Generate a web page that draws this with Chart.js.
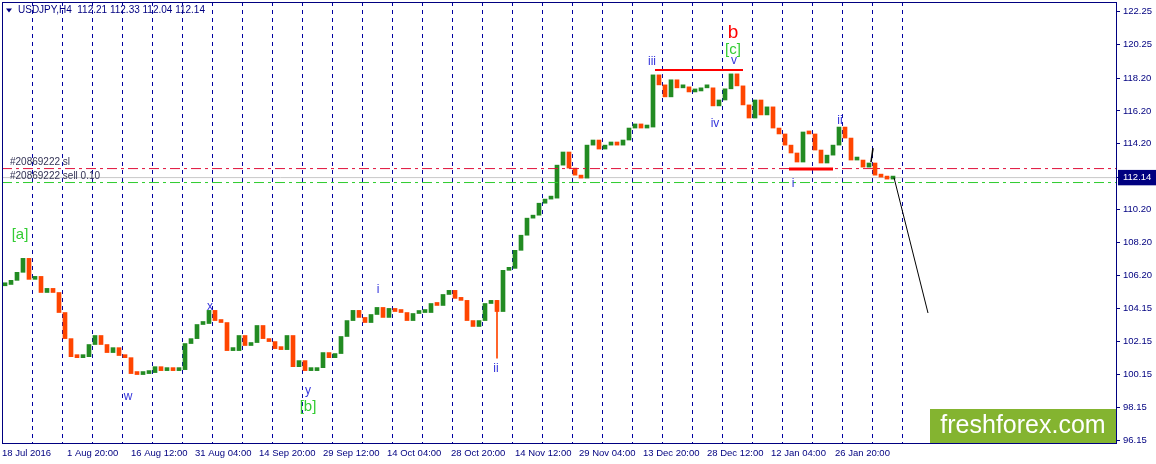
<!DOCTYPE html>
<html>
<head>
<meta charset="utf-8">
<title>USDJPY,H4</title>
<script src="https://cdn.jsdelivr.net/npm/chart.js@4.4.1/dist/chart.umd.min.js"></script>
<style>
  html, body { margin: 0; padding: 0; background: #fff; }
  #wrap { width: 1156px; height: 464px; }
</style>
</head>
<body>
<div id="wrap"><canvas id="chart" width="1156" height="464"></canvas></div>
<script>
// The x axis counts H4 bars (6 per trading day, 30 per week).
const dayCloses = [
  105.63, 105.88, 106.37, 107.22, 105.94, 106.12, 105.14, 105.39, 105.14, 103.92,
  102.33, 101.23, 101.17, 101.23, 101.97, 102.52, 101.97, 101.48, 101.78, 101.30,
  101.17, 100.20, 100.14, 100.20, 100.26, 100.62, 100.38, 100.44, 100.38, 100.44,
  102.03, 102.33, 103.19, 103.25, 104.05, 103.43, 103.31, 101.60, 101.60, 102.52,
  101.91, 102.09, 103.13, 102.33, 102.15, 101.72, 101.66, 102.52, 100.62, 100.99,
  100.38, 100.38, 100.56, 101.48, 101.17, 101.42, 102.46, 103.43, 104.05, 103.62,
  103.31, 103.80, 104.23, 103.62, 104.17, 103.98, 103.92, 103.43, 103.86, 103.92,
  103.92, 104.47, 104.35, 105.02, 105.27, 104.78, 104.66, 103.43, 103.07, 103.43,
  104.47, 104.66, 103.98, 106.49, 106.61, 107.71, 108.63, 109.67, 109.85, 110.58,
  110.83, 110.89, 112.90, 113.70, 112.72, 112.29, 112.11, 114.12, 114.43, 113.88,
  114.12, 114.31, 114.12, 114.43, 115.16, 115.41, 115.16, 115.22, 118.40, 117.79,
  117.06, 118.10, 117.61, 117.67, 117.36, 117.42, 117.61, 117.61, 116.51, 116.87,
  117.55, 118.46, 117.73, 116.57, 115.77, 116.87, 115.96, 116.45, 115.16, 114.80,
  114.12, 113.64, 113.09, 114.92, 114.80, 113.82, 113.03, 113.51, 114.12, 115.22,
  114.55, 113.21, 113.21, 112.78, 113.03, 112.29, 112.17, 112.05, 112.14
];
const firstOpen = 105.55;

// the long lower shadow under wave ii
const spikeDays = [82];
const spikeLows = [101.14];
const spikeHighs = [104.66];

const priceTicks = [122.25, 120.25, 118.20, 116.20, 114.20, 112.14, 110.20, 108.20, 106.20, 104.15, 102.15, 100.15, 98.15, 96.15];
const dateLabels = ['18 Jul 2016', '1 Aug 20:00', '16 Aug 12:00', '31 Aug 04:00', '14 Sep 20:00', '29 Sep 12:00',
  '14 Oct 04:00', '28 Oct 20:00', '14 Nov 12:00', '29 Nov 04:00', '13 Dec 20:00', '28 Dec 12:00',
  '12 Jan 04:00', '26 Jan 20:00'];
const dateTickBars = [0, 65, 129, 193, 257, 321, 385, 449, 513, 577, 641, 705, 769, 833];

const lastPrice = 112.14;
const slPrice = 112.69;
const sellPrice = 111.84;
const orderId = '#20869222';

// drawn objects: [fromBar, fromPrice, toBar, toPrice]
const topLevel = [653, 118.70, 741, 118.70];
const baseLevel = [787, 112.66, 831, 112.66];
const forecast = [892, 112.14, 926, 103.89];
const shortTrend = [869, 113.09, 871, 113.94];

// wave labels: text, bar, price, kind
const waveMarks = [
  ['[a]', 18, 108.63, 'green'],
  ['w', 126, 98.79, 'blue'],
  ['x', 208, 104.29, 'blue'],
  ['y', 306, 99.16, 'blue'],
  ['[b]', 306, 98.18, 'green'],
  ['i', 376, 105.33, 'blue'],
  ['ii', 494, 100.50, 'blue'],
  ['iii', 650, 119.20, 'blue'],
  ['iv', 713, 115.41, 'blue'],
  ['v', 732, 119.26, 'blue'],
  ['b', 731, 120.97, 'red'],
  ['[c]', 731, 119.93, 'green'],
  ['i', 791, 111.74, 'blue'],
  ['ii', 838, 115.59, 'blue']
];

const NAVY = '#000080';
const UP = '#228b22';
const DOWN = '#ff4500';
const FONT = 'Liberation Sans';
const markStyle = {
  blue: { color: '#3535dc', size: 12 },
  green: { color: '#33cc33', size: 15 },
  red: { color: '#ff0000', size: 19 }
};

const candles = dayCloses.map((c, i) => {
  const o = i ? dayCloses[i - 1] : firstOpen;
  return { x: i * 6 + 3, y: [o, c] };
});
const candleColors = candles.map(p => (p.y[1] >= p.y[0] ? UP : DOWN));
const spikes = spikeDays.map((d, i) => ({ x: d * 6 + 3, y: [spikeLows[i], spikeHighs[i]] }));

const seg = s => [{ x: s[0], y: s[1] }, { x: s[2], y: s[3] }];
const level = p => [{ x: 0, y: p }, { x: 1114, y: p }];
const lineDs = (data, color, width, dash, order) => ({
  type: 'line', data, borderColor: color, borderWidth: width, borderDash: dash || [],
  pointRadius: 0, fill: false, order: order
});

const chartDecor = {
  id: 'chartDecor',
  beforeDatasetsDraw(chart) {
    const { ctx, chartArea: a, scales: { x } } = chart;
    ctx.save();
    ctx.strokeStyle = '#0000a0';
    ctx.lineWidth = 1;
    ctx.setLineDash([4, 4]);
    for (let b = 30; b <= 900; b += 30) {
      const px = Math.round(x.getPixelForValue(b)) + 0.5;
      ctx.beginPath();
      ctx.moveTo(px, a.top);
      ctx.lineTo(px, a.bottom);
      ctx.stroke();
    }
    ctx.restore();
  },
  afterDraw(chart) {
    const { ctx, chartArea: a, scales: { x, y } } = chart;
    ctx.save();
    // frame
    ctx.strokeStyle = NAVY;
    ctx.lineWidth = 1;
    ctx.strokeRect(a.left + 0.5, a.top + 0.5, a.right - a.left, a.bottom - a.top);

    // symbol header
    ctx.fillStyle = NAVY;
    ctx.beginPath();
    ctx.moveTo(6, 8.5);
    ctx.lineTo(12, 8.5);
    ctx.lineTo(9, 12.5);
    ctx.closePath();
    ctx.fill();
    ctx.font = '10px "' + FONT + '"';
    ctx.textBaseline = 'middle';
    ctx.textAlign = 'left';
    ctx.fillText('USDJPY,H4  112.21 112.33 112.04 112.14', 18, 10.5);

    // order labels
    ctx.fillStyle = '#333355';
    ctx.fillText(orderId + ' sl', 10, y.getPixelForValue(slPrice) - 6);
    ctx.fillText(orderId + ' sell 0.10', 10, y.getPixelForValue(sellPrice) - 6.5);

    // wave labels
    ctx.textAlign = 'center';
    waveMarks.forEach(([t, bar, price, kind]) => {
      const st = markStyle[kind];
      ctx.fillStyle = st.color;
      ctx.font = st.size + 'px "' + FONT + '"';
      ctx.fillText(t, x.getPixelForValue(bar), y.getPixelForValue(price));
    });

    // broker logo
    ctx.fillStyle = '#84b430';
    ctx.fillRect(930, 409, 186, 34);
    ctx.fillStyle = '#ffffff';
    ctx.font = '25px "' + FONT + '"';
    ctx.fillText('freshforex.com', 1023, 426.5);
    ctx.restore();
  }
};

new Chart(document.getElementById('chart'), {
  type: 'bar',
  data: {
    datasets: [
      lineDs(level(lastPrice), '#c8c8c8', 1, [], 10),
      {
        type: 'bar', data: candles, backgroundColor: candleColors, borderWidth: 0,
        barThickness: 4, minBarLength: 3, grouped: false, order: 5
      },
      {
        type: 'bar', data: spikes, backgroundColor: DOWN, borderWidth: 0,
        barThickness: 1, grouped: false, order: 6
      },
      lineDs(level(slPrice), '#e0103a', 1, [10, 4, 3, 4], 1),
      lineDs(level(sellPrice), '#2ecc2e', 1, [10, 4, 3, 4], 1),
      lineDs(seg(topLevel), '#ff0000', 2, [], 0),
      lineDs(seg(baseLevel), '#ff0000', 3, [], 0),
      lineDs(seg(forecast), '#000000', 1, [], 0),
      lineDs(seg(shortTrend), '#000000', 1.5, [], 0)
    ]
  },
  options: {
    responsive: false,
    animation: false,
    layout: { padding: { left: 2, top: 2, right: 0, bottom: 0 } },
    plugins: { legend: { display: false }, tooltip: { enabled: false } },
    scales: {
      x: {
        type: 'linear', min: 0, max: 1114, offset: false,
        afterBuildTicks: ax => { ax.ticks = dateTickBars.map(v => ({ value: v })); },
        afterFit: ax => { ax.height = 21; ax.paddingLeft = 0; ax.paddingRight = 0; },
        grid: { display: false, drawTicks: false },
        border: { display: false },
        ticks: {
          align: 'start', autoSkip: false, maxRotation: 0, minRotation: 0, padding: 5,
          color: NAVY, font: { family: FONT, size: 9.5 },
          callback: (v, i) => dateLabels[i]
        }
      },
      y: {
        type: 'linear', position: 'right', min: 95.97, max: 122.84,
        afterBuildTicks: ax => {
          ax.ticks = priceTicks.slice().sort((a, b) => a - b).map(v => ({ value: v }));
        },
        afterFit: ax => { ax.width = 40; ax.paddingTop = 0; ax.paddingBottom = 0; },
        grid: { drawOnChartArea: false, drawTicks: true, tickLength: 4, color: NAVY },
        border: { display: false },
        ticks: {
          padding: 3,
          font: { family: FONT, size: 9.5 },
          color: c => (c.tick && c.tick.value === lastPrice ? '#ffffff' : NAVY),
          showLabelBackdrop: true,
          backdropColor: c => (c.tick && c.tick.value === lastPrice ? NAVY : 'rgba(0,0,0,0)'),
          backdropPadding: { left: 5, right: 9, top: 2, bottom: 2 },
          callback: v => v.toFixed(2)
        }
      }
    }
  },
  plugins: [chartDecor]
});
</script>
</body>
</html>
